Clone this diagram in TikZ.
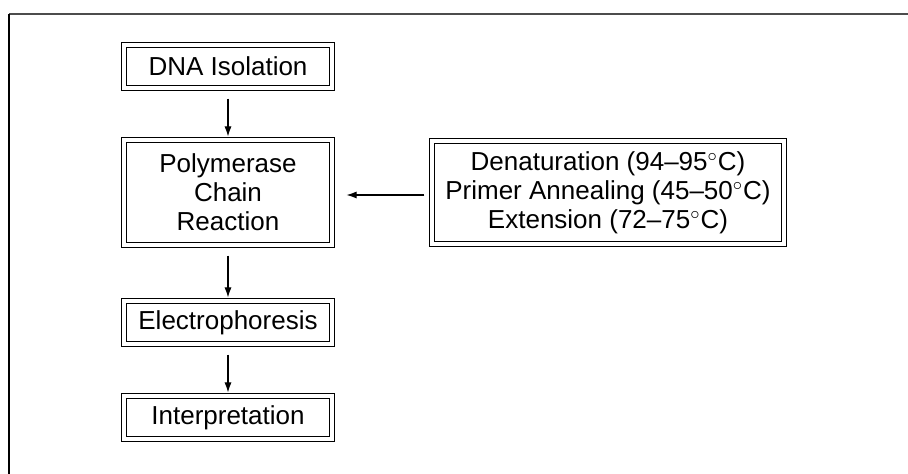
\documentclass[tikz,border=0pt]{standalone}
\usepackage{fontspec}
\setmainfont{Liberation Sans}
\usetikzlibrary{arrows.meta}

\tikzset{
  stage/.style={draw, double, line width=0.55pt, double distance=2pt, inner sep=0pt,
    align=center, font=\fontsize{13}{14.5}\selectfont},
  flow/.style={-{Latex[length=5pt,width=3.5pt]}, line width=0.55pt}
}

\begin{document}
\begin{tikzpicture}[x=0.5pt, y=-0.5pt]
      \useasboundingbox (0,0) rectangle (908,474);
      % frame
      \draw[line width=1pt, black!70] (9,14) -- (908,14);
      \draw[line width=0.8pt] (9,14) -- (9,474);

      \node[stage, minimum width=104pt, minimum height=21.5pt] (dna) at (228,66.5) {DNA Isolation};
      \node[stage, minimum width=104pt, minimum height=52.5pt] (pcr) at (228,192.5) {Polymerase\\Chain\\Reaction};
      \node[stage, minimum width=104pt, minimum height=21.5pt] (elec) at (228,322.5) {Electrophoresis};
      \node[stage, minimum width=104pt, minimum height=21.5pt] (interp) at (228,417.5) {Interpretation};
      \node[stage, minimum width=176pt, minimum height=51.5pt] (cycle) at (608,192.5) {Denaturation (94--95$^\circ$C)\\Primer Annealing (45--50$^\circ$C)\\Extension (72--75$^\circ$C)};

      \draw[flow, shorten <=5pt, shorten >=1.5pt] (dna) -- (pcr);
      \draw[flow, shorten <=5pt, shorten >=1.5pt] (pcr) -- (elec);
      \draw[flow, shorten <=5pt, shorten >=1.5pt] (elec) -- (interp);
      \draw[flow, shorten <=3.5pt, shorten >=7pt] (cycle.west |- 0,195) -- (pcr.east |- 0,195);
\end{tikzpicture}
\end{document}
